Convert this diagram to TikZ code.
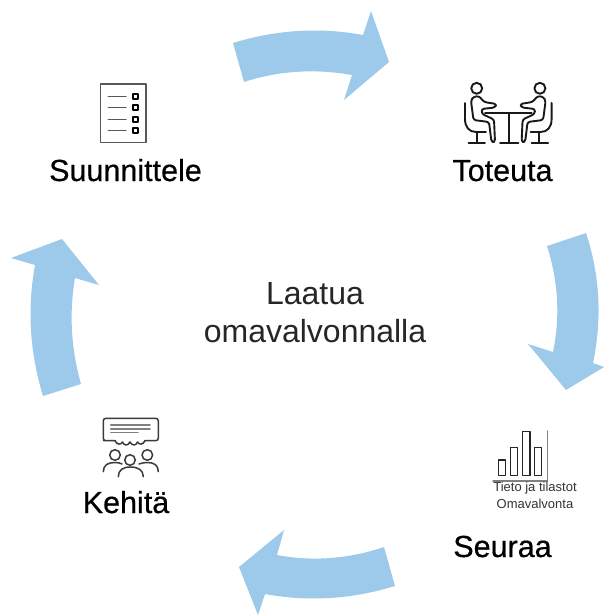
\documentclass[tikz,border=0pt]{standalone}
\usepackage{fontspec}
\setmainfont{Liberation Sans}
\newfontfamily\stagefont[RawFeature={embolden=0.5}]{Liberation Sans}
\definecolor{arrowblue}{HTML}{9DC9EB}
\definecolor{icongray}{HTML}{3A3A3A}
\tikzset{
  x=1pt,y=-1pt,
  cyclearrow/.style={fill=arrowblue,draw=none},
  stagelabel/.style={anchor=base,inner sep=0pt,text=black,font=\stagefont\fontsize{30.5}{30.5}\selectfont},
  centrelabel/.style={anchor=base,inner sep=0pt,text=black!85,font=\fontsize{32}{32}\selectfont},
  smalllabel/.style={anchor=center,inner sep=0pt,text=black!80,font=\fontsize{13}{13}\selectfont},
  icon/.style={draw=icongray,line width=1.5pt,line join=round,line cap=round},
  iconthick/.style={draw=black!90,line width=1.9pt,line join=round,line cap=round},
}
\newcommand{\seatedperson}{%
  \draw[iconthick] (476.7,88.3) circle (5.5);
  \draw[iconthick,rounded corners=2.5pt] (473,97) -- (471,101) -- (473.5,120) -- (489,122) -- (491.5,142) -- (495,142) -- (494,119.5) -- (482,114) -- (481.5,109) -- (495,107.5) -- (496.5,104) -- (484,102) -- (479,96) -- cycle;
  \draw[iconthick] (465,103) -- (465,119) .. controls (465,127) and (469,132) .. (476,132) -- (486,132);
  \draw[iconthick] (477.3,132) -- (477.3,143);
  \draw[iconthick] (468.5,143) -- (485,143);
}
\begin{document}
\begin{tikzpicture}
\useasboundingbox (0,0) rectangle (604,615);

% cycle arrows
\fill[cyclearrow] (233,43) .. controls (276.3,29.7) and (319.7,27) .. (363,35) -- (371,11) -- (389,62) -- (344,100) -- (352,75) .. controls (316,68.7) and (280,70.3) .. (244,82) -- cycle;
\fill[cyclearrow] (586,233) .. controls (600.3,276.3) and (602,319.7) .. (593,363) -- (604,367) -- (566,390) -- (528,344) -- (553,352) .. controls (560.3,316.7) and (558.3,281.7) .. (547,246) -- cycle;
\fill[cyclearrow] (395,586) .. controls (351.7,599.3) and (308.3,602) .. (265,594) -- (258,615) -- (239,567) -- (284,530) -- (277,555) .. controls (312.3,561.7) and (348.3,559) .. (384,547) -- cycle;
\fill[cyclearrow] (43,396) .. controls (29.7,352) and (27,309.3) .. (35,265) -- (11,258) -- (62,239) -- (99,285) -- (75,278) .. controls (69,313.3) and (71,348.7) .. (81,384) -- cycle;

% centre
\node[centrelabel] (centreA) at (315,304) {Laatua};
\node[centrelabel] (centreB) at (315,342) {omavalvonnalla};

% stage labels
\node[stagelabel] (plan) at (125.5,181) {Suunnittele};
\node[stagelabel] (do) at (502.5,181) {Toteuta};
\node[stagelabel] (check) at (502.5,557) {Seuraa};
\node[stagelabel] (act) at (126,513) {Kehitä};

% checklist icon
\draw[icon,draw=icongray!85] (100.7,84) rectangle (146,142.7);
\foreach \yy in {96.7,107.7,119.3,130.7}{
  \draw[icon,draw=icongray!85] (108.3,\yy) -- (126,\yy);
  \draw[icon,draw=black] (133.2,\yy-2.5) rectangle (138.2,\yy+2.5);
}

% meeting icon
\seatedperson
\begin{scope}[xshift=1016.6pt,xscale=-1]
\seatedperson
\end{scope}
\draw[iconthick] (485,113.3) -- (531.7,113.3);
\draw[iconthick] (509.3,113.3) -- (509.3,143);
\draw[iconthick] (500,143) -- (518.3,143);

% bar chart icon
\draw[icon,draw=gray] (493,481) -- (547.7,481) -- (547.7,431);
\draw[icon,draw=black!85] (498.3,460) rectangle (505.7,475.7);
\draw[icon,draw=black!85] (510.7,447.3) rectangle (517.7,475.7);
\draw[icon,draw=black!85] (522.3,431.7) rectangle (530,475.7);
\draw[icon,draw=black!85] (534.3,447.3) rectangle (541.7,475.7);
\node[smalllabel] (stats) at (535,488) {Tieto ja tilastot};
\node[smalllabel] (omav) at (535,504) {Omavalvonta};

% discussion icon
\draw[icon,rounded corners=2.5pt] (115,440.7) -- (106,440.7) -- (103.3,440.7) -- (103.3,418.3) -- (158.3,418.3) -- (158.3,440.7) -- (145,440.7);
\draw[icon] (115,440.7) .. controls (117,445) and (121,445) .. (122.5,442) .. controls (124,446) and (128,446) .. (130,442) .. controls (132,446) and (136,446) .. (137.5,442) .. controls (139,445) and (143,445) .. (145,440.7);
\draw[icon,draw=gray] (110.7,425) -- (150,425);
\draw[icon,draw=gray] (110.7,429) -- (150,429);
\draw[icon,draw=gray] (110.7,432.7) -- (138,432.7);
\draw[icon] (115,455) circle (5.3);
\draw[icon] (130,460) circle (5.3);
\draw[icon] (147.3,455) circle (5.3);
\draw[icon] (103.3,471.7) .. controls (103.3,465) and (108,462.5) .. (115,462.5) .. controls (118,462.5) and (120,463) .. (122,464);
\draw[icon] (158.3,471.7) .. controls (158.3,465) and (154,462.5) .. (147.3,462.5) .. controls (144,462.5) and (142,463) .. (139,464);
\draw[icon] (118.3,476.7) .. controls (118.3,470) and (123,467) .. (130.5,467) .. controls (138,467) and (143.3,470) .. (143.3,476.7);
\end{tikzpicture}
\end{document}
